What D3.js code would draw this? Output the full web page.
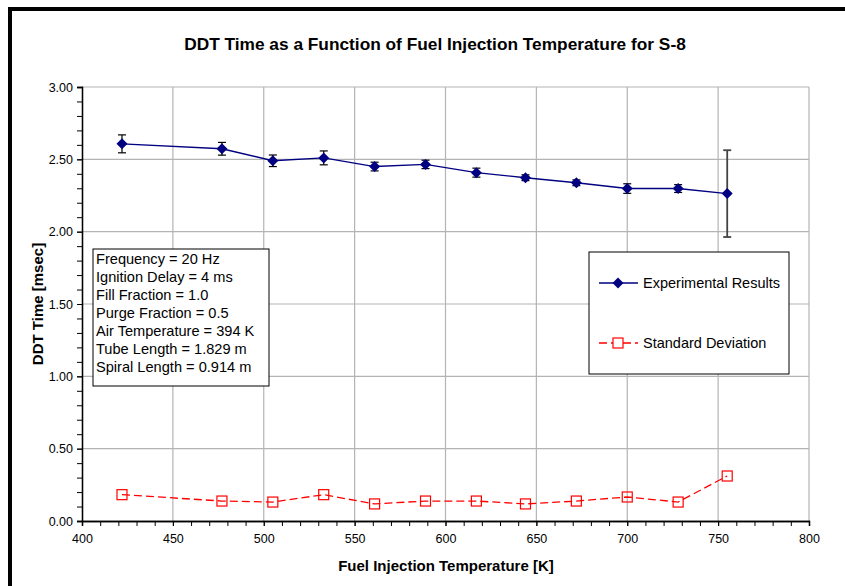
<!DOCTYPE html>
<html>
<head>
<meta charset="utf-8">
<script src="https://cdn.jsdelivr.net/npm/d3@7"></script>
<style>
  html, body { margin: 0; padding: 0; background: #fff; }
  svg { display: block; font-family: "Liberation Sans", Arial, sans-serif; }
</style>
</head>
<body>
<svg id="chart" width="845" height="586"></svg>
<script>
// ---- data ----
const temperatures = [422, 477, 505, 533, 561, 589, 617, 644, 672, 700, 728, 755];
const ddtTime      = [2.607, 2.573, 2.49, 2.51, 2.45, 2.465, 2.408, 2.373, 2.338, 2.298, 2.298, 2.263];
const errorHalf    = [0.062, 0.044, 0.040, 0.048, 0.030, 0.029, 0.031, 0.020, 0.020, 0.033, 0.027, 0.300];
const stdDev       = [0.182, 0.138, 0.131, 0.182, 0.118, 0.138, 0.138, 0.118, 0.138, 0.166, 0.131, 0.311];
const xTicks = [400, 450, 500, 550, 600, 650, 700, 750, 800];
const yTicks = [0.0, 0.5, 1.0, 1.5, 2.0, 2.5, 3.0];
const seriesNames = ["Experimental Results", "Standard Deviation"];
const notes = [
  "Frequency = 20 Hz",
  "Ignition Delay = 4 ms",
  "Fill Fraction = 1.0",
  "Purge Fraction = 0.5",
  "Air Temperature = 394 K",
  "Tube Length = 1.829 m",
  "Spiral Length = 0.914 m"
];
const titleText = "DDT Time as a Function of Fuel Injection Temperature for S-8";
const xTitle = "Fuel Injection Temperature [K]";
const yTitle = "DDT Time [msec]";

// ---- layout ----
const svg = d3.select("#chart");
const plot = { left: 82, right: 809, top: 87, bottom: 521 };
const x = d3.scaleLinear().domain([400, 800]).range([plot.left, plot.right]);
const y = d3.scaleLinear().domain([0, 3]).range([plot.bottom, plot.top]);

// outer border (open to right / bottom edge)
svg.append("rect").attr("x", 10).attr("y", 9).attr("width", 900).attr("height", 700)
  .attr("fill", "none").attr("stroke", "#000").attr("stroke-width", 4);

// title
svg.append("text").attr("x", 435).attr("y", 50).attr("text-anchor", "middle")
  .attr("font-size", 17.3).attr("font-weight", "bold").text(titleText);

// gridlines
const grid = svg.append("g");
grid.selectAll(".gx").data(xTicks.slice(1)).enter().append("line")
  .attr("x1", d => x(d)).attr("x2", d => x(d)).attr("y1", plot.top).attr("y2", plot.bottom)
  .attr("stroke", "#b4b4b4").attr("stroke-width", 1.2);
grid.selectAll(".gy").data(yTicks.slice(1)).enter().append("line")
  .attr("x1", plot.left).attr("x2", plot.right).attr("y1", d => y(d)).attr("y2", d => y(d))
  .attr("stroke", "#b4b4b4").attr("stroke-width", 1.2);

// axes
const xAxis = d3.axisBottom(x).tickValues(xTicks).tickFormat(d3.format("d")).tickSize(5).tickPadding(8);
const xMinor = d3.axisBottom(x).tickValues(d3.range(400, 801, 10)).tickFormat("").tickSize(5);
const yAxis = d3.axisLeft(y).tickValues(yTicks).tickFormat(d3.format(".2f")).tickSize(5).tickPadding(4);
const yMinor = d3.axisLeft(y).tickValues(d3.range(0, 31).map(i => i / 10)).tickFormat("").tickSize(5);

const gxm = svg.append("g").attr("transform", `translate(0,${plot.bottom})`).call(xMinor);
const gx = svg.append("g").attr("transform", `translate(0,${plot.bottom})`).call(xAxis);
const gym = svg.append("g").attr("transform", `translate(${plot.left},0)`).call(yMinor);
const gy = svg.append("g").attr("transform", `translate(${plot.left},0)`).call(yAxis);
[gx, gxm, gy, gym].forEach(g => {
  g.select(".domain").attr("stroke", "#000").attr("stroke-width", 1.3);
  g.selectAll(".tick line").attr("stroke", "#000");
  g.selectAll("text").attr("font-size", 12.5).attr("fill", "#000")
    .attr("font-family", "'Liberation Sans', Arial, sans-serif");
});

// axis titles
svg.append("text").attr("x", 446).attr("y", 571).attr("text-anchor", "middle")
  .attr("font-size", 15).attr("font-weight", "bold").text(xTitle);
svg.append("text").attr("transform", `translate(43,${(plot.top + plot.bottom) / 2}) rotate(-90)`)
  .attr("text-anchor", "middle").attr("font-size", 15).attr("font-weight", "bold").text(yTitle);

// data objects
const expData = temperatures.map((t, i) => ({ t, v: ddtTime[i], e: errorHalf[i] }));
const sdData = temperatures.map((t, i) => ({ t, v: stdDev[i] }));

// std deviation series
const line = d3.line().x(d => x(d.t)).y(d => y(d.v));
svg.append("path").datum(sdData).attr("d", line).attr("fill", "none")
  .attr("stroke", "#ff0000").attr("stroke-width", 1.3).attr("stroke-dasharray", "8,4");
svg.selectAll(".sq").data(sdData).enter().append("rect")
  .attr("x", d => x(d.t) - 5).attr("y", d => y(d.v) - 5).attr("width", 10).attr("height", 10)
  .attr("fill", "none").attr("stroke", "#ff0000").attr("stroke-width", 1.2);

// experimental series
svg.append("path").datum(expData).attr("d", line).attr("fill", "none")
  .attr("stroke", "#000080").attr("stroke-width", 1.4);
const eb = svg.append("g");
expData.forEach((d, i) => {
  const col = i === expData.length - 1 ? "#444" : "#000";
  const sw = i === expData.length - 1 ? 1.8 : 1.2;
  eb.append("line").attr("x1", x(d.t)).attr("x2", x(d.t)).attr("y1", y(d.v - d.e)).attr("y2", y(d.v + d.e))
    .attr("stroke", col).attr("stroke-width", sw);
  [d.v - d.e, d.v + d.e].forEach(v => {
    eb.append("line").attr("x1", x(d.t) - 4).attr("x2", x(d.t) + 4).attr("y1", y(v)).attr("y2", y(v))
      .attr("stroke", col).attr("stroke-width", sw);
  });
});
const diamond = (cx, cy, r) => `M${cx},${cy - r}L${cx + r},${cy}L${cx},${cy + r}L${cx - r},${cy}Z`;
svg.selectAll(".dm").data(expData).enter().append("path")
  .attr("d", d => diamond(x(d.t), y(d.v), 5.5)).attr("fill", "#000080");

// notes box
const nb = svg.append("g");
nb.append("rect").attr("x", 93).attr("y", 249).attr("width", 176).attr("height", 137)
  .attr("fill", "#fff").attr("stroke", "#000").attr("stroke-width", 1);
nb.selectAll("text").data(notes).enter().append("text")
  .attr("x", 96).attr("y", (d, i) => 263.5 + i * 18).attr("font-size", 14.6).text(d => d);

// legend
const lg = svg.append("g");
lg.append("rect").attr("x", 589).attr("y", 252).attr("width", 200).attr("height", 122)
  .attr("fill", "#fff").attr("stroke", "#000").attr("stroke-width", 1);
lg.append("line").attr("x1", 599).attr("x2", 638).attr("y1", 283).attr("y2", 283)
  .attr("stroke", "#000080").attr("stroke-width", 1.4);
lg.append("path").attr("d", diamond(618, 283, 5.5)).attr("fill", "#000080");
lg.append("line").attr("x1", 599).attr("x2", 638).attr("y1", 343).attr("y2", 343)
  .attr("stroke", "#ff0000").attr("stroke-width", 1.3).attr("stroke-dasharray", "8,4");
lg.append("rect").attr("x", 613).attr("y", 338).attr("width", 10).attr("height", 10)
  .attr("fill", "#fff").attr("stroke", "#ff0000").attr("stroke-width", 1.2);
lg.selectAll(".lt").data(seriesNames).enter().append("text")
  .attr("x", 643).attr("y", (d, i) => 288 + i * 60).attr("font-size", 14.5).text(d => d);
</script>
</body>
</html>
